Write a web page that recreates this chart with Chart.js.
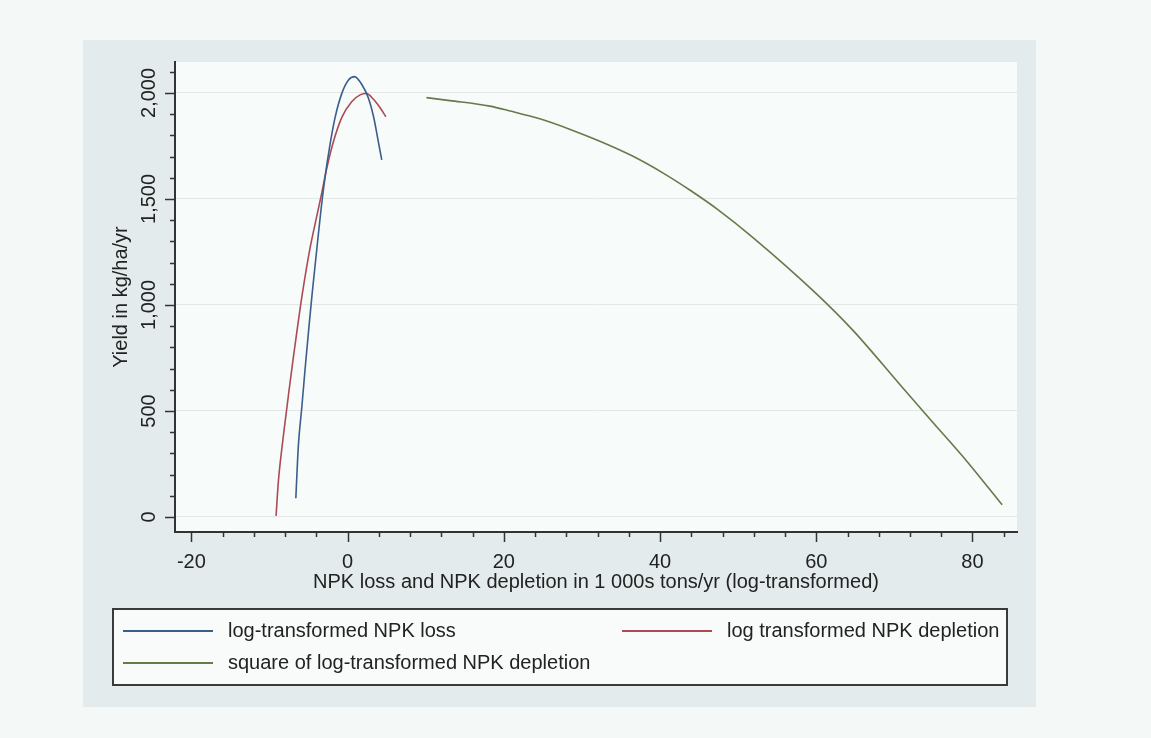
<!DOCTYPE html>
<html>
<head>
<meta charset="utf-8">
<title>Yield vs NPK loss and depletion</title>
<script src="https://cdn.jsdelivr.net/npm/chart.js@4.4.0/dist/chart.umd.min.js"></script>
<style>
  html, body { margin: 0; padding: 0; background: #f4f8f6; }
</style>
</head>
<body>
<canvas id="yieldChart" width="1151" height="738"></canvas>
<script>
// values
const lossX = [-6.63, -6.30, -5.87, -5.44, -4.93, -4.55, -3.94, -3.39, -2.88, -2.24, -1.60, -0.74, 0.11, 0.87, 1.82, 2.67, 3.31, 3.86, 4.37];
const lossY = [88, 340, 515, 700, 905, 1050, 1265, 1455, 1605, 1760, 1885, 1998, 2061, 2077, 2040, 1975, 1890, 1785, 1684];

const depletionX = [-9.16, -8.86, -8.43, -8.00, -7.49, -6.94, -6.38, -5.83, -4.80, -3.94, -3.30, -2.67, -1.82, -0.74, 0.54, 1.60, 2.37, 3.31, 4.16, 4.89];
const depletionY = [5, 170, 320, 450, 600, 755, 905, 1045, 1270, 1420, 1530, 1645, 1770, 1885, 1960, 1991, 1998, 1970, 1930, 1888];

const squareX = [10.1, 13.1, 18.2, 20.8, 24.6, 28.5, 32.3, 36.6, 40.4, 43.9, 47.4, 51.9, 60.1, 64.7, 70.7, 74.6, 79.3, 83.8];
const squareY = [1978, 1964, 1938, 1915, 1878, 1828, 1772, 1700, 1622, 1540, 1450, 1318, 1050, 880, 625, 460, 262, 57];

const seriesLabels = ['log-transformed NPK loss', 'log transformed NPK depletion', 'square of log-transformed NPK depletion'];

const xMajorTicks = [-20, 0, 20, 40, 60, 80];
const xMinorTicks = [-20, -16, -12, -8, -4, 0, 4, 8, 12, 16, 20, 24, 28, 32, 36, 40, 44, 48, 52, 56, 60, 64, 68, 72, 76, 80, 84];
const yMajorTicks = [0, 500, 1000, 1500, 2000];
const yTickLabels = ['0', '500', '1,000', '1,500', '2,000'];
const yMinorTicks = [0, 100, 200, 300, 400, 500, 600, 700, 800, 900, 1000, 1100, 1200, 1300, 1400, 1500, 1600, 1700, 1800, 1900, 2000, 2100];

const toPoints = (xs, ys) => xs.map((x, i) => ({ x: x, y: ys[i] }));

const textColor = '#222';
const fontFamily = '"Liberation Sans", Arial, sans-serif';

// page, graph region and plot region backgrounds
const backgroundPlugin = {
    id: 'stataBackground',
    beforeDraw(chart) {
        const { ctx, chartArea } = chart;
        ctx.save();
        ctx.fillStyle = '#f4f8f6';
        ctx.fillRect(0, 0, chart.width, chart.height);
        ctx.fillStyle = '#e3ebec';
        ctx.fillRect(83, 40, 953, 667);
        ctx.fillStyle = '#f7fbf9';
        ctx.fillRect(chartArea.left, chartArea.top, chartArea.right - chartArea.left, chartArea.bottom - chartArea.top);
        ctx.restore();
    }
};

// tick marks (major + minor), rotated y labels, boxed legend
const axisLegendPlugin = {
    id: 'stataAxisLegend',
    afterDraw(chart) {
        const { ctx, chartArea } = chart;
        const xs = chart.scales.x;
        const ys = chart.scales.y;
        ctx.save();
        ctx.strokeStyle = '#333';
        ctx.lineWidth = 1.5;
        xMinorTicks.forEach(v => {
            const px = Math.round(xs.getPixelForValue(v)) + 0.5;
            const len = xMajorTicks.includes(v) ? 10 : 5;
            ctx.beginPath();
            ctx.moveTo(px, chartArea.bottom);
            ctx.lineTo(px, chartArea.bottom + len);
            ctx.stroke();
        });
        yMinorTicks.forEach(v => {
            const py = Math.round(ys.getPixelForValue(v)) + 0.5;
            const len = yMajorTicks.includes(v) ? 10 : 5;
            ctx.beginPath();
            ctx.moveTo(chartArea.left, py);
            ctx.lineTo(chartArea.left - len, py);
            ctx.stroke();
        });

        ctx.fillStyle = textColor;
        ctx.font = '20px ' + fontFamily;
        ctx.textAlign = 'center';
        ctx.textBaseline = 'alphabetic';
        yMajorTicks.forEach((v, i) => {
            const py = ys.getPixelForValue(v);
            ctx.save();
            ctx.translate(155, py);
            ctx.rotate(-Math.PI / 2);
            ctx.fillText(yTickLabels[i], 0, 0);
            ctx.restore();
        });

        // legend box
        ctx.fillStyle = '#f8fbfa';
        ctx.fillRect(113, 609, 894, 76);
        ctx.strokeStyle = '#3a3a3a';
        ctx.lineWidth = 2;
        ctx.strokeRect(113, 609, 894, 76);

        const slots = [
            { x: 123, y: 631 },
            { x: 622, y: 631 },
            { x: 123, y: 663 }
        ];
        ctx.font = '20px ' + fontFamily;
        ctx.textAlign = 'left';
        ctx.textBaseline = 'middle';
        chart.data.datasets.forEach((ds, i) => {
            const s = slots[i];
            ctx.strokeStyle = ds.borderColor;
            ctx.lineWidth = 2;
            ctx.beginPath();
            ctx.moveTo(s.x, s.y);
            ctx.lineTo(s.x + 90, s.y);
            ctx.stroke();
            ctx.fillStyle = textColor;
            ctx.fillText(ds.label, s.x + 105, s.y);
        });
        ctx.restore();
    }
};

const dataYield = {
    datasets: [{
        label: seriesLabels[0],
        borderColor: '#3b5e8c',
        data: toPoints(lossX, lossY),
    }, {
        label: seriesLabels[1],
        borderColor: '#ad4a55',
        data: toPoints(depletionX, depletionY),
    }, {
        label: seriesLabels[2],
        borderColor: '#667a4a',
        data: toPoints(squareX, squareY),
    }]
};

const configYield = {
    type: 'line',
    data: dataYield,
    plugins: [backgroundPlugin, axisLegendPlugin],
    options: {
        responsive: false,
        animation: false,
        layout: {
            padding: { left: 85, top: 62, right: 134, bottom: 144 }
        },
        elements: {
            point: { radius: 0 },
            line: { borderWidth: 1.6, cubicInterpolationMode: 'monotone', fill: false }
        },
        plugins: {
            legend: { display: false },
            tooltip: { enabled: false }
        },
        scales: {
            x: {
                type: 'linear',
                min: -22.1,
                max: 85.7,
                afterBuildTicks: scale => { scale.ticks = xMajorTicks.map(v => ({ value: v })); },
                afterFit: scale => { scale.height = 62; },
                grid: { display: false, drawTicks: false },
                border: { display: true, color: '#333', width: 2 },
                ticks: {
                    padding: 18,
                    color: textColor,
                    font: { family: fontFamily, size: 20 },
                    maxRotation: 0
                },
                title: {
                    display: true,
                    text: 'NPK loss and NPK depletion in 1 000s tons/yr (log-transformed)',
                    color: textColor,
                    font: { family: fontFamily, size: 20 },
                    padding: { top: 0, bottom: 0 }
                }
            },
            y: {
                type: 'linear',
                min: -71,
                max: 2146,
                afterBuildTicks: scale => { scale.ticks = yMajorTicks.map(v => ({ value: v })); },
                afterFit: scale => { scale.width = 90; },
                grid: { color: '#e3e8e6', lineWidth: 1, drawTicks: false },
                border: { display: true, color: '#333', width: 2 },
                ticks: { display: false },
                title: {
                    display: true,
                    text: 'Yield in kg/ha/yr',
                    color: textColor,
                    font: { family: fontFamily, size: 20 },
                    padding: { top: 24, bottom: 0 }
                }
            }
        }
    }
};

const lineChartYield = new Chart(
    document.getElementById('yieldChart'),
    configYield
);
</script>
</body>
</html>
